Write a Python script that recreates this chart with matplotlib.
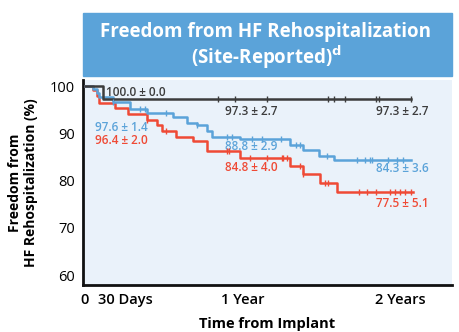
import numpy as np
import matplotlib.pyplot as plt
from matplotlib.patches import Rectangle

# Kaplan-Meier steps: (start month, freedom %)
black_t = [0, 1.4]
black_v = [100.0, 97.3]
black_end = 24.8
black_cens = [10.1, 11.4, 13.9, 18.5, 19.0, 19.8, 22.2, 22.4, 24.8]

blue_t = [0, 0.6, 0.9, 1.1, 2.1, 3.4, 4.7, 6.7, 7.8, 8.5, 9.3, 9.7, 11.8, 15.6, 16.6, 17.8, 19.0]
blue_v = [100.0, 99.5, 98.5, 97.6, 96.7, 95.1, 94.4, 93.4, 92.3, 91.8, 90.4, 89.3, 88.8, 87.5, 86.5, 85.3, 84.3]
blue_end = 24.8
blue_cens = [2.1, 4.2, 4.6, 6.2, 8.5, 10.8, 11.2, 12.7, 13.5, 14.9, 16.1, 16.4, 18.4,
             20.7, 21.3, 21.7, 21.9, 23.1, 23.8, 24.2]

red_t = [0, 0.6, 0.9, 1.1, 2.3, 3.3, 4.7, 5.5, 5.9, 6.9, 8.2, 9.3, 11.8, 15.6, 16.6, 17.9, 19.2]
red_v = [100.0, 99.2, 97.9, 96.4, 95.3, 94.2, 92.8, 91.8, 90.4, 89.3, 88.3, 86.2, 84.8, 83.0, 81.3, 79.5, 77.5]
red_end = 25.0
red_cens = [4.7, 6.2, 10.8, 11.0, 12.6, 13.9, 15.0, 15.1, 15.4, 16.4, 16.6, 18.3, 18.5,
            20.9, 21.5, 22.2, 23.2, 23.6, 24.0, 24.4, 24.8]

# annotations: (text, x month, y value, colour key, alignment)
labels = [
    ("100.0 ± 0.0", 1.6, 98.6, "k", "left"),
    ("97.3 ± 2.7", 12.7, 94.6, "k", "center"),
    ("97.3 ± 2.7", 26.2, 94.6, "k", "right"),
    ("97.6 ± 1.4", 0.75, 91.2, "b", "left"),
    ("96.4 ± 2.0", 0.75, 88.4, "r", "left"),
    ("88.8 ± 2.9", 12.7, 87.2, "b", "center"),
    ("84.8 ± 4.0", 12.7, 82.8, "r", "center"),
    ("84.3 ± 3.6", 26.2, 82.6, "b", "right"),
    ("77.5 ± 5.1", 26.2, 75.2, "r", "right"),
]

colors = {"k": "#3c3c3c", "b": "#5ba3d9", "r": "#ef4a35"}
font = "Open Sans"

fig = plt.figure(figsize=(4.6, 3.32), dpi=100)
ax = fig.add_axes([83/460, 1-285/332, (452-83)/460, (285-80)/332])
ax.set_facecolor("#eaf2fa")


def km(ax, t, v, end, cens, c):
    tt = t + [end]
    vv = v + [v[-1]]
    ax.step(tt, vv, where="post", color=c, lw=1.8, zorder=3)
    idx = np.searchsorted(t, cens, side="right") - 1
    ax.plot(cens, np.array(v)[idx], ls="none", marker="|", ms=4, mew=1.0, color=c, zorder=4)


km(ax, red_t, red_v, red_end, red_cens, colors["r"])
km(ax, blue_t, blue_v, blue_end, blue_cens, colors["b"])
km(ax, black_t, black_v, black_end, black_cens, colors["k"])

for txt, x, y, c, ha in labels:
    ax.text(x, y, txt, color=colors[c], fontsize=8.5, ha=ha, va="center",
            family=font, fontweight="semibold")

ax.set_xlim(-0.15, 27.96)
ax.set_ylim(57.9, 101.3)
ax.set_yticks([60, 70, 80, 90, 100])
ax.set_xticks([0, 1, 12, 24])
ax.set_xticklabels(["0", "30 Days", "1 Year", "2 Years"])
ax.get_xticklabels()[1].set_ha("left")
ax.tick_params(length=0, labelsize=10.5)
ax.tick_params(axis="x", pad=6)
ax.tick_params(axis="y", pad=6)
for lab in ax.get_xticklabels() + ax.get_yticklabels():
    lab.set_family(font)
for lab in ax.get_xticklabels():
    lab.set_fontweight("semibold")

for s in ["top", "right"]:
    ax.spines[s].set_visible(False)
for s in ["left", "bottom"]:
    ax.spines[s].set_linewidth(2.0)
    ax.spines[s].set_color("#111111")

ax.set_xlabel("Time from Implant", family=font, fontweight="bold", fontsize=10.5, labelpad=7)
ax.set_ylabel("Freedom from\nHF Rehospitalization (%)", family=font, fontweight="bold",
              fontsize=10, labelpad=8, linespacing=1.25)

# title box
fig.patches.append(Rectangle((83/460, 1-76/332), (452-83)/460, 63/332,
                             transform=fig.transFigure, color="#5ba3d9", zorder=0))
fig.text(266/460, 1-32/332, "Freedom from HF Rehospitalization", color="white",
         fontsize=13.5, fontweight="bold", family=font, ha="center", va="center")
fig.text(266/460, 1-57/332, "(Site-Reported)$^{\\mathbf{d}}$", color="white",
         fontsize=13.5, fontweight="bold", family=font, ha="center", va="center")

fig.savefig("out.png", dpi=100)
